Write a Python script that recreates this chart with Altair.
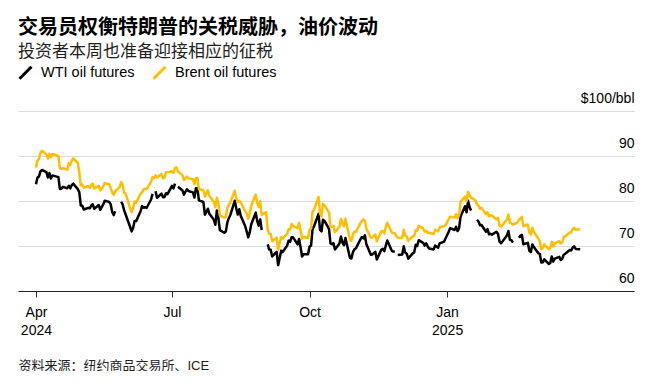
import altair as alt
import pandas as pd

dates = [
    "2024-04-01","2024-04-02","2024-04-03","2024-04-04","2024-04-05","2024-04-08","2024-04-09","2024-04-10","2024-04-11","2024-04-12",
    "2024-04-15","2024-04-16","2024-04-17","2024-04-18","2024-04-19","2024-04-22","2024-04-23","2024-04-24","2024-04-25","2024-04-26",
    "2024-04-29","2024-04-30",
    "2024-05-01","2024-05-02","2024-05-03","2024-05-06","2024-05-07","2024-05-08","2024-05-09","2024-05-10","2024-05-13","2024-05-14",
    "2024-05-15","2024-05-16","2024-05-17","2024-05-20","2024-05-21","2024-05-22","2024-05-23","2024-05-24","2024-05-27","2024-05-28",
    "2024-05-29","2024-05-30","2024-05-31",
    "2024-06-03","2024-06-04","2024-06-05","2024-06-06","2024-06-07","2024-06-10","2024-06-11","2024-06-12","2024-06-13","2024-06-14",
    "2024-06-17","2024-06-18","2024-06-19","2024-06-20","2024-06-21","2024-06-24","2024-06-25","2024-06-26","2024-06-27","2024-06-28",
    "2024-07-01","2024-07-02","2024-07-03","2024-07-04","2024-07-05","2024-07-08","2024-07-09","2024-07-10","2024-07-11","2024-07-12",
    "2024-07-15","2024-07-16","2024-07-17","2024-07-18","2024-07-19","2024-07-22","2024-07-23","2024-07-24","2024-07-25","2024-07-26",
    "2024-07-29","2024-07-30","2024-07-31",
    "2024-08-01","2024-08-02","2024-08-05","2024-08-06","2024-08-07","2024-08-08","2024-08-09","2024-08-12","2024-08-13","2024-08-14",
    "2024-08-15","2024-08-16","2024-08-19","2024-08-20","2024-08-21","2024-08-22","2024-08-23","2024-08-26","2024-08-27","2024-08-28",
    "2024-08-29","2024-08-30",
    "2024-09-02","2024-09-03","2024-09-04","2024-09-05","2024-09-06","2024-09-09","2024-09-10","2024-09-11","2024-09-12","2024-09-13",
    "2024-09-16","2024-09-17","2024-09-18","2024-09-19","2024-09-20","2024-09-23","2024-09-24","2024-09-25","2024-09-26","2024-09-27",
    "2024-09-30",
    "2024-10-01","2024-10-02","2024-10-03","2024-10-04","2024-10-07","2024-10-08","2024-10-09","2024-10-10","2024-10-11","2024-10-14",
    "2024-10-15","2024-10-16","2024-10-17","2024-10-18","2024-10-21","2024-10-22","2024-10-23","2024-10-24","2024-10-25","2024-10-28",
    "2024-10-29","2024-10-30","2024-10-31",
    "2024-11-01","2024-11-04","2024-11-05","2024-11-06","2024-11-07","2024-11-08","2024-11-11","2024-11-12","2024-11-13","2024-11-14",
    "2024-11-15","2024-11-18","2024-11-19","2024-11-20","2024-11-21","2024-11-22","2024-11-25","2024-11-26","2024-11-27","2024-11-28",
    "2024-11-29",
    "2024-12-02","2024-12-03","2024-12-04","2024-12-05","2024-12-06","2024-12-09","2024-12-10","2024-12-11","2024-12-12","2024-12-13",
    "2024-12-16","2024-12-17","2024-12-18","2024-12-19","2024-12-20","2024-12-23","2024-12-24","2024-12-26","2024-12-27","2024-12-30",
    "2024-12-31",
    "2025-01-02","2025-01-03","2025-01-06","2025-01-07","2025-01-08","2025-01-09","2025-01-10","2025-01-13","2025-01-14","2025-01-15",
    "2025-01-16","2025-01-17","2025-01-20","2025-01-21","2025-01-22","2025-01-23","2025-01-24","2025-01-27","2025-01-28","2025-01-29",
    "2025-01-30","2025-01-31",
    "2025-02-03","2025-02-04","2025-02-05","2025-02-06","2025-02-07","2025-02-10","2025-02-11","2025-02-12","2025-02-13","2025-02-14",
    "2025-02-17","2025-02-18","2025-02-19","2025-02-20","2025-02-21","2025-02-24","2025-02-25","2025-02-26","2025-02-27","2025-02-28",
    "2025-03-03","2025-03-04","2025-03-05","2025-03-06","2025-03-07","2025-03-10","2025-03-11","2025-03-12","2025-03-13","2025-03-14",
    "2025-03-17","2025-03-18","2025-03-19","2025-03-20","2025-03-21","2025-03-24","2025-03-25","2025-03-26","2025-03-27","2025-03-28",
    "2025-03-31",
]

wti = [
    83.71,85.15,85.43,86.59,86.91,86.43,85.23,86.21,85.02,85.66,
    85.41,85.36,82.69,82.73,83.14,82.85,83.36,82.81,83.57,83.85,
    82.63,81.93,
    79.00,78.95,78.11,78.48,78.38,78.99,79.26,78.26,79.12,78.02,
    78.63,79.23,80.06,79.80,79.26,77.57,76.87,77.72,None,79.83,
    79.23,77.91,76.99,
    74.22,73.25,74.07,75.55,75.53,77.74,78.90,78.50,78.62,78.45,
    80.33,81.57,None,82.17,80.73,81.63,80.83,80.90,81.74,81.54,
    83.38,82.81,83.88,None,83.16,82.33,81.41,82.10,82.62,82.21,
    81.91,80.76,82.85,82.82,80.13,79.78,76.96,77.59,78.28,77.16,
    75.81,74.73,77.91,
    76.31,73.52,72.94,73.20,75.23,76.19,76.84,80.06,78.35,76.98,
    78.16,76.65,74.37,73.17,71.93,73.01,74.83,77.42,75.53,74.52,
    75.91,73.55,
    None,70.34,69.20,69.15,67.67,68.71,65.75,67.31,68.97,68.65,
    70.09,71.19,70.91,71.95,71.92,70.37,71.56,69.69,67.67,68.18,
    68.17,
    69.83,70.10,73.71,74.38,77.14,73.57,73.24,75.85,75.56,73.83,
    70.58,70.39,70.67,69.22,70.56,72.09,70.77,70.19,71.78,67.38,
    67.21,68.61,69.26,
    69.49,71.47,71.99,71.69,72.36,70.38,68.04,68.12,68.43,68.70,
    67.02,69.16,69.39,68.87,70.10,71.24,68.94,68.77,68.72,None,
    68.00,
    68.10,69.94,68.54,68.30,67.20,68.37,68.59,70.29,70.02,71.29,
    70.71,70.08,70.58,69.91,69.46,69.24,70.10,69.62,70.60,70.99,
    71.72,
    73.13,73.96,73.56,74.25,73.32,73.92,76.57,78.82,77.50,80.04,
    78.68,77.88,None,75.83,75.44,74.62,74.66,73.17,73.77,72.62,
    72.73,72.53,
    73.16,72.70,71.03,70.61,71.00,72.32,73.32,71.37,71.29,70.74,
    None,71.85,72.25,72.48,70.40,70.70,68.93,68.62,70.35,69.76,
    68.37,68.26,66.31,66.36,67.04,66.03,66.25,67.68,66.55,67.18,
    67.58,66.90,67.16,68.07,68.28,69.11,69.00,69.65,69.92,69.36,
    69.30,
]

brent = [
    87.42,88.92,89.35,90.65,91.17,90.38,89.42,90.48,89.74,90.45,
    90.10,90.02,87.29,87.11,87.29,87.00,88.42,88.02,89.01,89.50,
    88.40,86.33,
    83.44,83.67,82.96,83.33,82.88,83.58,83.88,82.79,83.36,82.38,
    82.75,83.27,83.98,83.71,82.88,81.90,81.36,82.12,83.10,84.22,
    83.60,81.86,81.62,
    78.36,77.52,78.41,79.87,79.62,81.63,81.92,82.60,82.75,82.62,
    84.25,85.33,85.07,85.71,85.24,86.01,85.01,85.25,86.39,86.41,
    86.60,86.24,87.34,87.43,86.54,85.75,84.66,85.08,85.40,85.03,
    84.85,83.73,85.08,85.11,82.63,82.40,81.01,81.71,82.37,81.13,
    79.78,78.63,80.72,
    79.52,76.81,76.30,76.48,78.33,79.16,79.66,82.30,80.69,79.76,
    80.04,79.68,77.66,77.20,76.05,77.22,79.02,81.43,79.55,78.65,
    79.94,76.93,
    77.52,73.75,72.70,72.69,71.06,71.84,69.19,70.61,71.97,71.61,
    72.75,73.70,73.65,74.88,74.49,73.90,75.17,73.46,71.60,71.98,
    71.77,
    73.56,73.90,77.62,78.05,80.93,77.18,76.58,79.40,79.04,77.46,
    74.25,74.22,74.45,73.06,74.29,76.04,74.96,74.38,76.05,71.42,
    71.12,72.55,73.16,
    73.10,75.08,75.53,75.92,75.63,73.87,71.83,71.89,72.28,72.56,
    71.04,73.30,73.31,72.81,74.23,75.17,73.01,72.81,72.83,72.28,
    71.84,
    71.83,73.62,72.31,72.09,71.12,72.14,72.19,73.52,73.41,74.49,
    73.91,73.19,73.39,72.88,72.94,72.63,73.58,73.26,74.17,74.39,
    74.64,
    75.93,76.51,76.30,77.05,76.16,76.92,79.76,81.01,79.92,82.03,
    81.29,80.79,80.15,79.29,79.00,78.29,78.50,77.08,77.49,76.58,
    76.87,76.76,
    75.96,76.20,74.61,74.29,74.66,75.87,77.00,75.18,75.02,74.74,
    75.22,75.84,76.04,76.48,74.43,74.78,73.02,72.53,74.04,73.18,
    71.62,71.04,69.30,69.46,70.36,69.28,69.56,70.95,69.88,70.58,
    71.07,70.56,70.78,72.00,72.16,73.00,73.02,73.79,74.03,73.63,
    73.70,
]

series_names = ["WTI oil futures", "Brent oil futures"]
series_colors = ["#000000", "#ffbf00"]
y_ticks = [60, 70, 80, 90, 100]

rows = []
for d, w, b in zip(dates, wti, brent):
    rows.append({"date": d, "series": series_names[0], "price": w})
    rows.append({"date": d, "series": series_names[1], "price": b})
df = pd.DataFrame(rows)

latin = "Liberation Sans, Arial, Helvetica, sans-serif"
cjk = "Liberation Sans, Noto Sans CJK SC, sans-serif"

x_ticks = [
    alt.DateTime(year=2024, month=4, date=1, utc=True),
    alt.DateTime(year=2024, month=7, date=1, utc=True),
    alt.DateTime(year=2024, month=10, date=1, utc=True),
    alt.DateTime(year=2025, month=1, date=1, utc=True),
]

x_enc = alt.X(
    "date:T",
    scale=alt.Scale(
        type="utc",
        domain=[
            alt.DateTime(year=2024, month=3, date=20, utc=True),
            alt.DateTime(year=2025, month=5, date=6, utc=True),
        ],
    ),
    axis=alt.Axis(
        values=x_ticks,
        labelExpr="utcmonth(datum.value) == 0 || (utcmonth(datum.value) == 3 && utcyear(datum.value) == 2024) ? [utcFormat(datum.value, '%b'), utcFormat(datum.value, '%Y')] : utcFormat(datum.value, '%b')",
        grid=False,
        tickSize=6,
        tickColor="#333333",
        tickWidth=1,
        domainColor="#222222",
        domainWidth=1,
        labelFont=latin,
        labelFontSize=14,
        labelColor="#000000",
        labelLineHeight=18.5,
        labelPadding=8,
        labelBaseline="top",
        labelFlush=False,
        labelOverlap=False,
        title="资料来源：纽约商品交易所、ICE",
        titleX=0,
        titleY=74,
        titleAlign="left",
        titleAnchor="start",
        titleBaseline="middle",
        titleFont=cjk,
        titleFontSize=13,
        titleFontWeight="normal",
        titleColor="#222222",
    ),
)

y_enc = alt.Y(
    "price:Q",
    scale=alt.Scale(domain=[60, 100], nice=False, zero=False),
    axis=alt.Axis(
        orient="right",
        values=y_ticks,
        labelExpr="datum.value == 100 ? '$100/bbl' : datum.label",
        labelAlign="right",
        labelBaseline="alphabetic",
        labelOffset=-9,
        labelPadding=0,
        ticks=False,
        tickSize=0,
        domain=False,
        grid=True,
        gridColor="#dcdcdc",
        gridWidth=1,
        labelFont=latin,
        labelFontSize=14,
        labelColor="#000000",
        title=None,
    ),
)

color_enc = alt.Color(
    "series:N",
    scale=alt.Scale(domain=series_names, range=series_colors),
    legend=alt.Legend(
        orient="none",
        legendX=0,
        legendY=-46,
        direction="horizontal",
        title=None,
        symbolType="M-1,1L1,-1",
        symbolSize=144,
        symbolStrokeWidth=3,
        labelFont=latin,
        labelFontSize=14.5,
        labelColor="#000000",
        labelOffset=8,
        columnPadding=12,
    ),
)

base = alt.Chart(df).encode(x=x_enc, y=y_enc, color=color_enc)

wti_layer = base.transform_filter(f"datum.series == '{series_names[0]}'").mark_line(
    strokeWidth=2.5, invalid="break-paths-show-domains", strokeJoin="round"
)
brent_layer = base.transform_filter(f"datum.series == '{series_names[1]}'").mark_line(
    strokeWidth=2.5, invalid="break-paths-show-domains", strokeJoin="round"
)

chart = (
    alt.layer(wti_layer, brent_layer)
    .properties(
        width=616,
        height=180,
        padding={"left": 10, "top": 103, "right": 20, "bottom": 80},
        autosize=alt.AutoSizeParams(type="none"),
        title=alt.TitleParams(
            text="交易员权衡特朗普的关税威胁，油价波动",
            subtitle="投资者本周也准备迎接相应的征税",
            anchor="start",
            frame="group",
            font=cjk,
            fontSize=20,
            fontWeight="bold",
            color="#000000",
            subtitleFont=cjk,
            subtitleFontSize=17,
            subtitleColor="#222222",
            subtitlePadding=6,
            offset=5,
        ),
    )
    .configure_view(stroke=None)
)

chart.save("out.html", embed_options={"renderer": "svg", "actions": False})
